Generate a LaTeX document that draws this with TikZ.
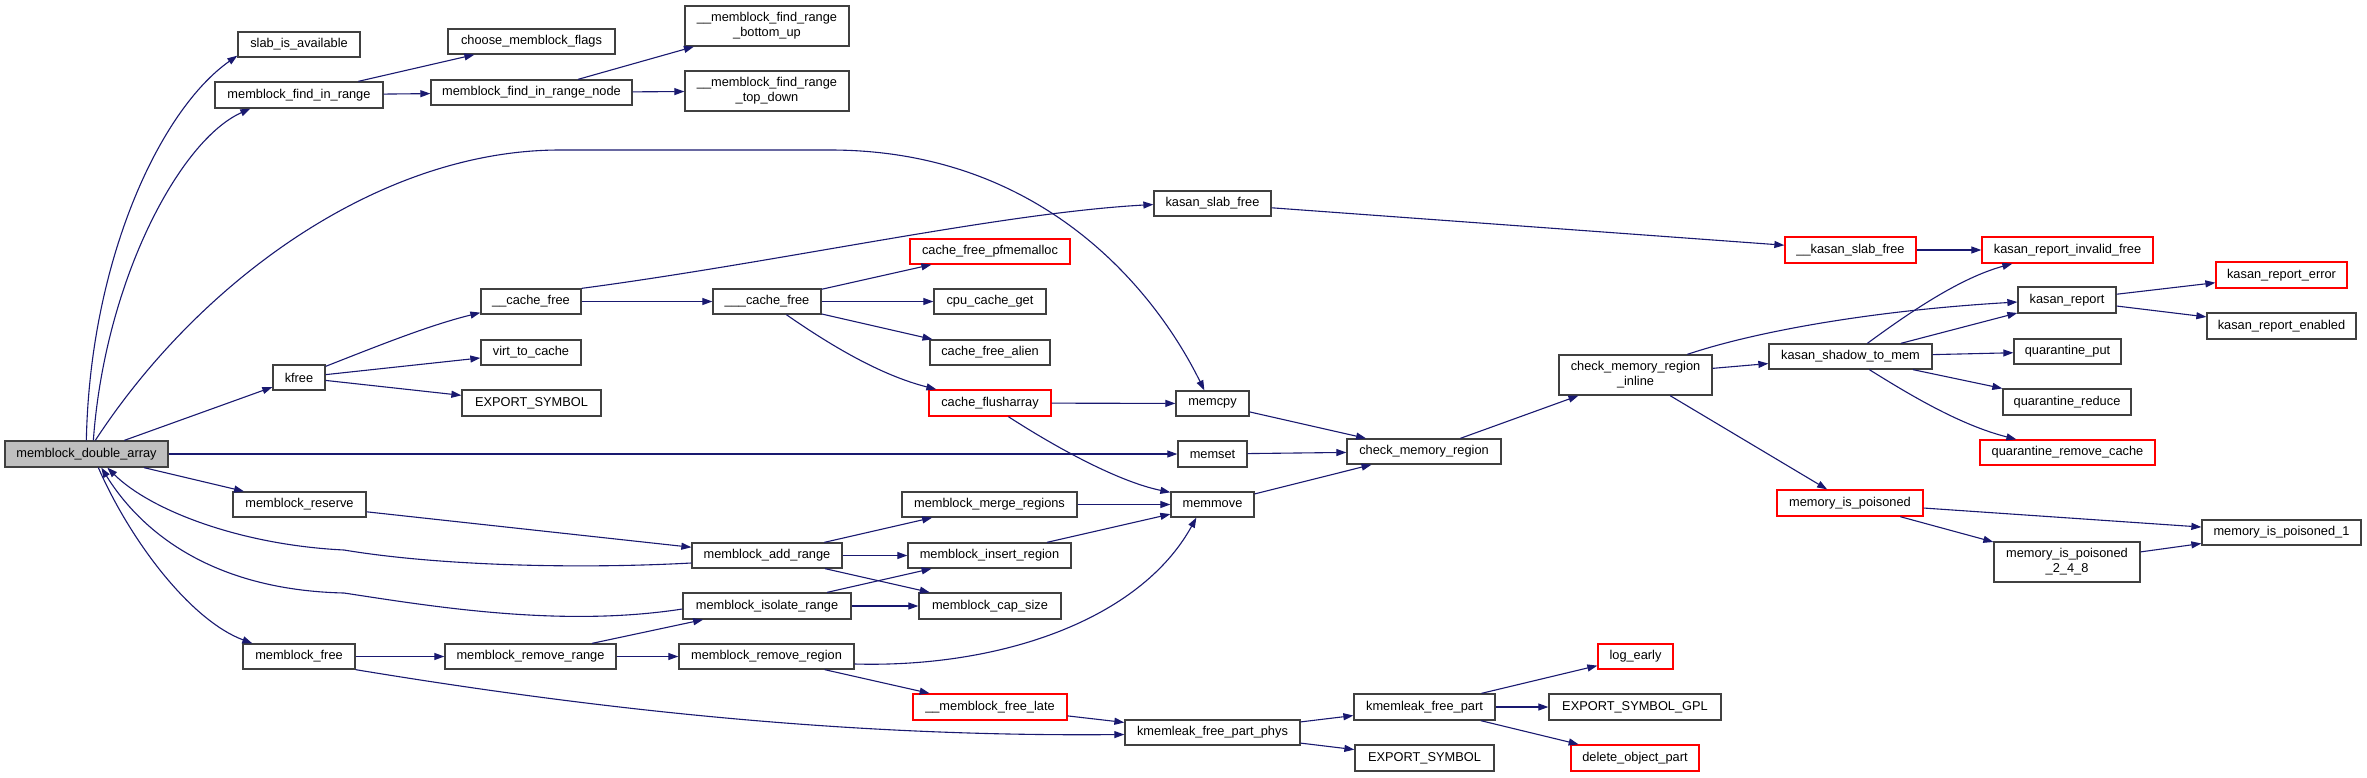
\documentclass[tikz,border=0pt]{standalone}
\usepackage{fontspec}
\setmainfont{Liberation Sans}
\usetikzlibrary{arrows.meta}
\definecolor{edgec}{HTML}{191970}
\definecolor{nodec}{HTML}{404040}
\definecolor{redc}{HTML}{FF0000}
\definecolor{grayf}{HTML}{BFBFBF}
\newcommand\nb[7]{\node[#6,minimum width={(#4-#2)*1pt},minimum height={(#5-#3)*1pt}] (#1) at ({(#2+#4)/2},{(#3+#5)/2}) {#7};}
\tikzset{
  nd/.style={draw=nodec, line width=1.3pt, inner sep=0pt, fill=white, align=center, font=\fontsize{12.8}{15}\selectfont},
  rd/.style={nd, draw=redc},
  gd/.style={nd, fill=grayf},
  edg/.style={draw=edgec, line width=1.1pt, -{Triangle[length=10pt,width=7pt]}}
}
\begin{document}
\begin{tikzpicture}[x=1pt,y=-1pt]
\fill[white] (0,0) rectangle (2367,777);
\useasboundingbox (0,0) rectangle (2367,777);
% nodes
\nb{mda}{5}{441}{168}{467}{gd}{memblock\_double\_array}
\nb{slab}{238}{32}{360}{57}{nd}{slab\_is\_available}
\nb{mfir}{215}{82}{383}{108}{nd}{memblock\_find\_in\_range}
\nb{cmf}{448}{29}{615}{54}{nd}{choose\_memblock\_flags}
\nb{mfirn}{431}{80}{632}{105}{nd}{memblock\_find\_in\_range\_node}
\nb{bu}{685}{6}{849}{46}{nd}{\_\_memblock\_find\_range\\\_bottom\_up}
\nb{td}{685}{71}{849}{111}{nd}{\_\_memblock\_find\_range\\\_top\_down}
\nb{kfree}{273}{365}{325}{390}{nd}{kfree}
\nb{cfree}{481}{289}{581}{314}{nd}{\_\_cache\_free}
\nb{vtc}{481}{340}{581}{365}{nd}{virt\_to\_cache}
\nb{expa}{462}{390}{601}{416}{nd}{EXPORT\_SYMBOL}
\nb{kslab}{1154}{191}{1271}{216}{nd}{kasan\_slab\_free}
\nb{cfp}{910}{239}{1070}{264}{rd}{cache\_free\_pfmemalloc}
\nb{ccfree}{713}{289}{821}{314}{nd}{\_\_\_cache\_free}
\nb{ccg}{934}{289}{1046}{314}{nd}{cpu\_cache\_get}
\nb{cfa}{930}{340}{1050}{365}{nd}{cache\_free\_alien}
\nb{cfl}{929}{390}{1051}{416}{rd}{cache\_flusharray}
\nb{memcpy}{1176}{391}{1249}{416}{nd}{memcpy}
\nb{memset}{1178}{441}{1247}{467}{nd}{memset}
\nb{memmove}{1171}{492}{1254}{517}{nd}{memmove}
\nb{mres}{233}{492}{366}{517}{nd}{memblock\_reserve}
\nb{mmerge}{902}{492}{1077}{517}{nd}{memblock\_merge\_regions}
\nb{madd}{692}{543}{842}{568}{nd}{memblock\_add\_range}
\nb{mins}{908}{543}{1071}{568}{nd}{memblock\_insert\_region}
\nb{miso}{683}{593}{851}{619}{nd}{memblock\_isolate\_range}
\nb{mcap}{919}{593}{1061}{619}{nd}{memblock\_cap\_size}
\nb{mfree}{243}{644}{355}{669}{nd}{memblock\_free}
\nb{mrr}{445}{644}{616}{669}{nd}{memblock\_remove\_range}
\nb{mrreg}{679}{644}{854}{669}{nd}{memblock\_remove\_region}
\nb{mfl}{913}{694}{1067}{720}{rd}{\_\_memblock\_free\_late}
\nb{kfpp}{1125}{720}{1300}{745}{nd}{kmemleak\_free\_part\_phys}
\nb{kasf}{1785}{237}{1916}{263}{rd}{\_\_kasan\_slab\_free}
\nb{cmri}{1559}{355}{1712}{395}{nd}{check\_memory\_region\\\_inline}
\nb{kstm}{1769}{344}{1932}{369}{nd}{kasan\_shadow\_to\_mem}
\nb{cmr}{1347}{439}{1501}{464}{nd}{check\_memory\_region}
\nb{mip}{1777}{490}{1923}{516}{rd}{memory\_is\_poisoned}
\nb{loge}{1598}{644}{1673}{669}{rd}{log\_early}
\nb{kfp}{1354}{694}{1495}{720}{nd}{kmemleak\_free\_part}
\nb{esg}{1549}{694}{1721}{720}{nd}{EXPORT\_SYMBOL\_GPL}
\nb{expb}{1355}{745}{1494}{771}{nd}{EXPORT\_SYMBOL}
\nb{dop}{1571}{745}{1699}{771}{rd}{delete\_object\_part}
\nb{krif}{1982}{237}{2153}{263}{rd}{kasan\_report\_invalid\_free}
\nb{kre}{2216}{262}{2347}{288}{rd}{kasan\_report\_error}
\nb{kr}{2018}{287}{2116}{313}{nd}{kasan\_report}
\nb{kren}{2207}{313}{2356}{339}{nd}{kasan\_report\_enabled}
\nb{qput}{2014}{339}{2121}{364}{nd}{quarantine\_put}
\nb{qred}{2003}{389}{2131}{415}{nd}{quarantine\_reduce}
\nb{qrc}{1980}{440}{2155}{465}{rd}{quarantine\_remove\_cache}
\nb{mip1}{2202}{520}{2361}{545}{nd}{memory\_is\_poisoned\_1}
\nb{mip248}{1994}{542}{2140}{582}{nd}{memory\_is\_poisoned\\\_2\_4\_8}
% curved edges
\draw[edg] ([xshift=82pt]mda.north west) .. controls (90,260) and (160,110) .. ([yshift=2pt]slab.south west);
\draw[edg] ([xshift=89pt]mda.north west) .. controls (105,280) and (180,140) .. ([xshift=36pt]mfir.south west);
\draw[edg] ([xshift=91pt]mda.north west) .. controls (200,280) and (380,150) .. (560,150) -- (830,150) .. controls (1050,150) and (1160,300) .. ([xshift=29pt]memcpy.north west);
\draw[edg] ([xshift=94pt]mda.south west) .. controls (130,540) and (190,620) .. ([xshift=10pt]mfree.north west);
\draw[edg] ([yshift=-7.5pt]madd.west) .. controls (580,569) and (440,566) .. (344,550) .. controls (240,545) and (150,510) .. ([xshift=103pt]mda.south west);
\draw[edg] ([yshift=-3pt]miso.west) .. controls (560,628) and (430,606) .. (344,593) .. controls (210,590) and (140,530) .. ([xshift=97pt]mda.south west);
\draw[edg] ([yshift=-2pt]kfree.north east) .. controls (380,345) and (430,325) .. ([yshift=2pt]cfree.south west);
\draw[edg] (cfree.north east) .. controls (780,262) and (1000,213) .. ([yshift=-1pt]kslab.west);
\draw[edg] ([xshift=74pt]ccfree.south west) .. controls (830,345) and (880,375) .. ([xshift=8pt]cfl.north west);
\draw[edg] ([xshift=80pt]cfl.south west) .. controls (1060,450) and (1120,482) .. ([yshift=-1pt]memmove.north west);
\draw[edg] (mfree.south east) .. controls (600,710) and (850,737) .. ([yshift=-2pt]kfpp.west);
\draw[edg] ([yshift=-7.5pt]mrreg.east) .. controls (1000,668) and (1140,620) .. ([xshift=26pt]memmove.south west);
\draw[edg] ([xshift=129pt]cmri.north west) .. controls (1760,330) and (1880,310) .. ([yshift=-2pt]kr.west);
\draw[edg] ([xshift=99pt]kstm.north west) .. controls (1910,312) and (1960,278) .. ([xshift=31pt]krif.south west);
\draw[edg] ([xshift=101pt]kstm.south west) .. controls (1910,395) and (1960,425) .. ([xshift=37pt]qrc.north west);
% straight edges
\foreach \a/\b in {mda/kfree, mda/memset, mda/mres, mfir/cmf, mfir/mfirn, mfirn/bu, mfirn/td,
  kfree/vtc, kfree/expa, cfree/ccfree, ccfree/cfp, ccfree/ccg, ccfree/cfa, cfl/memcpy,
  kslab/kasf, kasf/krif, memcpy/cmr, memset/cmr, memmove/cmr, cmr/cmri, cmri/kstm, cmri/mip,
  kstm/kr, kstm/qput, kstm/qred, kr/kre, kr/kren, mip/mip1, mip/mip248, mip248/mip1,
  mres/madd, madd/mmerge, madd/mins, madd/mcap, mmerge/memmove, mins/memmove, miso/mins,
  miso/mcap, mfree/mrr, mrr/miso, mrr/mrreg, mrreg/mfl, mfl/kfpp, kfpp/kfp, kfpp/expb,
  kfp/loge, kfp/esg, kfp/dop}
  \draw[edg] (\a) -- (\b);
\end{tikzpicture}
\end{document}
